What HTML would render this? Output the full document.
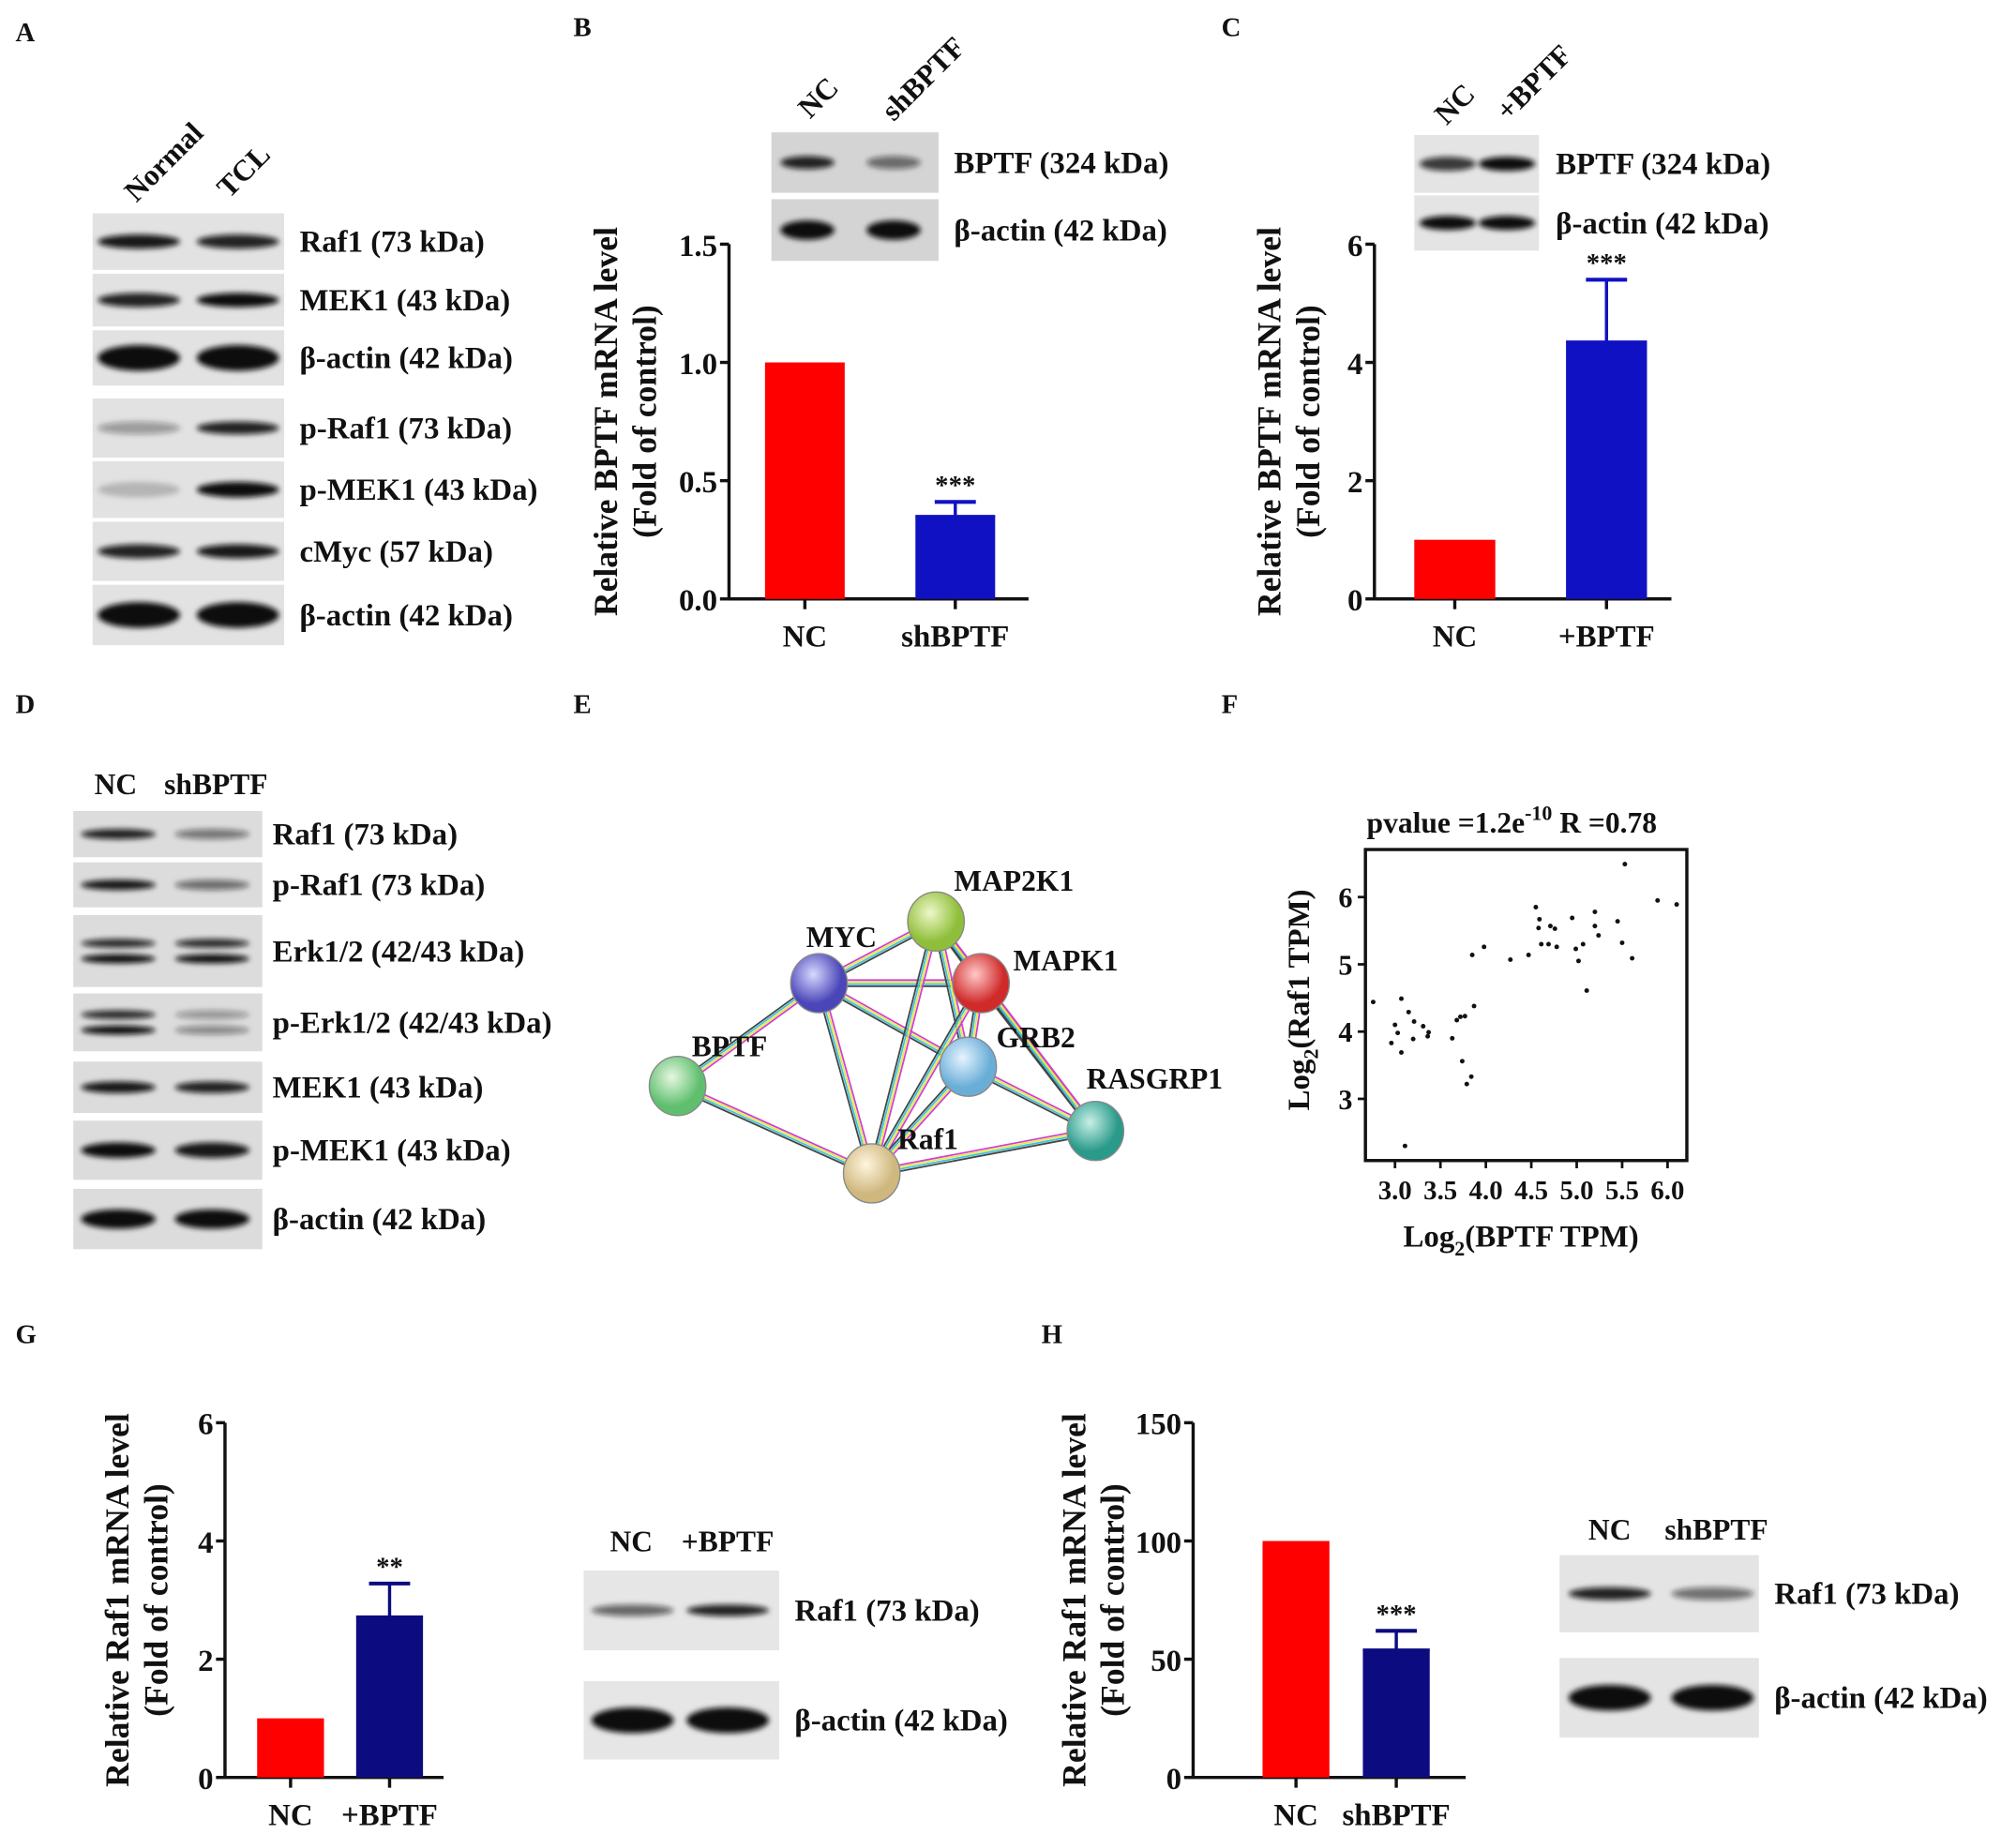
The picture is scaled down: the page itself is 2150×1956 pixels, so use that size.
<!DOCTYPE html>
<html><head><meta charset="utf-8">
<style>
html,body{margin:0;padding:0;background:#fff;}
svg{display:block;}
text{font-family:"Liberation Serif",serif;font-weight:bold;fill:#111;}
</style></head>
<body>
<svg id="fig" width="2150" height="1956" viewBox="0 0 1568 1427" preserveAspectRatio="none" xmlns="http://www.w3.org/2000/svg">
<defs>
<filter id="blur" x="-20%" y="-100%" width="140%" height="300%"><feGaussianBlur stdDeviation="2.2"/></filter>
<radialGradient id="gGreen" cx="40%" cy="35%"><stop offset="0" stop-color="#e6f7e0"/><stop offset="1" stop-color="#5fbf6f"/></radialGradient>
<radialGradient id="gLime" cx="40%" cy="35%"><stop offset="0" stop-color="#eef7c8"/><stop offset="1" stop-color="#8fbf3a"/></radialGradient>
<radialGradient id="gBlue" cx="40%" cy="35%"><stop offset="0" stop-color="#d8d8ff"/><stop offset="1" stop-color="#4a46b8"/></radialGradient>
<radialGradient id="gRed" cx="40%" cy="35%"><stop offset="0" stop-color="#ffc8c8"/><stop offset="1" stop-color="#d02a2a"/></radialGradient>
<radialGradient id="gCyan" cx="40%" cy="35%"><stop offset="0" stop-color="#e6f4ff"/><stop offset="1" stop-color="#6aaed8"/></radialGradient>
<radialGradient id="gTeal" cx="40%" cy="35%"><stop offset="0" stop-color="#c8f0e8"/><stop offset="1" stop-color="#2a9a8a"/></radialGradient>
<radialGradient id="gTan" cx="40%" cy="35%"><stop offset="0" stop-color="#fff6e0"/><stop offset="1" stop-color="#cfb77e"/></radialGradient>
</defs>
<g id="root"></g>
</svg>
<script>
// ---------- data ----------
const bCats = ["NC","shBPTF"];
const bVals = [1.0, 0.35];
const bErr = [0, 0.06];
const bTicks = ["0.0","0.5","1.0","1.5"];
const cCats = ["NC","+BPTF"];
const cVals = [1.0, 4.35];
const cErr = [0, 1.05];
const cTicks = ["0","2","4","6"];
const gCats = ["NC","+BPTF"];
const gVals = [1.0, 2.72];
const gErr = [0, 0.56];
const gTicks = ["0","2","4","6"];
const hCats = ["NC","shBPTF"];
const hVals = [100, 54];
const hErr = [0, 8];
const hTicks = ["0","50","100","150"];
const fX = [2.76,3.07,3.0,3.03,2.96,3.07,3.15,3.21,3.2,3.31,3.37,3.36,3.11,3.63,3.68,3.72,3.77,3.74,3.84,3.79,3.87,3.85,3.98,4.27,4.47,4.55,4.58,4.59,4.61,4.69,4.71,4.76,4.78,4.95,4.99,5.02,5.07,5.11,5.2,5.2,5.24,5.45,5.5,5.53,5.61,5.89,6.1];
const fY = [4.44,4.49,4.10,3.98,3.83,3.69,4.29,4.15,3.89,4.08,3.99,3.93,2.30,3.90,4.17,4.22,4.23,3.56,3.33,3.22,4.38,5.14,5.26,5.07,5.14,5.85,5.54,5.67,5.30,5.30,5.57,5.53,5.26,5.69,5.23,5.05,5.30,4.61,5.78,5.57,5.43,5.64,5.32,6.49,5.09,5.95,5.89];
const fXTicks = ["3.0","3.5","4.0","4.5","5.0","5.5","6.0"];
const fYTicks = ["3","4","5","6"];

const NS="http://www.w3.org/2000/svg";
const root=document.getElementById('root');
function mk(tag,attrs,parent,txt){const e=document.createElementNS(NS,tag);for(const k in attrs)e.setAttribute(k,attrs[k]);if(txt!==undefined)e.textContent=txt;(parent||root).appendChild(e);return e;}
function grp(name){const g=mk('g',{});


return g;}
function label(g,x,y,s,size,name,anchor){const t=mk('text',{x:x,y:y,'font-size':size||24,'text-anchor':anchor||'start'},g,s);


return t;}

[["A",12,32],["B",446,28],["C",950,28],["D",12,555],["E",446,555],["F",950,555],["G",12,1045],["H",810,1045]].forEach(p=>{
  const t=mk('text',{x:p[1],y:p[2],'font-size':21},root,p[0]);
  
  
});

function blot(name,x0,x1,lanes,rows,lx,bandW,bg){
  const g=grp(name);
  rows.forEach(r=>{
    const rg=grp(r[3]);g.appendChild(rg);
    mk('rect',{x:x0,y:r[0],width:x1-x0,height:r[1]-r[0],fill:bg||'#dedede'},rg);
    const cy=(r[0]+r[1])/2;
    lanes.forEach((lx2,i)=>{
      const v=r[2][i];
      const bh=r[5]||9;
      if(r[6]){
        mk('ellipse',{cx:lx2,cy:cy-6,rx:bandW/2,ry:bh/2,fill:'#111','fill-opacity':v,filter:'url(#blur)'},rg);
        mk('ellipse',{cx:lx2,cy:cy+6,rx:bandW/2,ry:bh/2,fill:'#111','fill-opacity':Math.min(1,v*1.2),filter:'url(#blur)'},rg);
      } else mk('ellipse',{cx:lx2,cy:cy,rx:bandW/2,ry:bh/2,fill:'#111','fill-opacity':v,filter:'url(#blur)'},rg);
    });
    label(rg,lx,cy+8,r[4],24,r[3]+'-label');
  });
  return g;
}

// ---- Panel A ----
(function(){
  const g=grp('panel-a');
  const t1=label(g,0,0,'Normal',23,'lane-normal');t1.setAttribute('transform','translate(106,158) rotate(-45)');
  const t2=label(g,0,0,'TCL',23,'lane-tcl');t2.setAttribute('transform','translate(178,155) rotate(-45)');
  g.appendChild(blot('blot-a',72,221,[108,185],[
    [166,210,[0.95,0.9],'raf1-row','Raf1 (73 kDa)',11],
    [213,254,[0.9,1],'mek1-row','MEK1 (43 kDa)',11],
    [257,300,[1,1],'actin-row-1','β-actin (42 kDa)',20],
    [310,356,[0.35,0.9],'praf1-row','p-Raf1 (73 kDa)',10],
    [359,403,[0.2,1],'pmek1-row','p-MEK1 (43 kDa)',12],
    [406,452,[0.9,0.95],'cmyc-row','cMyc (57 kDa)',11],
    [455,502,[1,1],'actin-row-2','β-actin (42 kDa)',20]
  ],233,64,'#e2e2e2'));
})();

function bar(name,ax,yTop,yBot,xEnd,max,ticks,cats,vals,errs,barX,barW,colors,stars,titleX,title1,title2){
  const g=grp(name);
  const ys=v=>yBot-(v/max)*(yBot-yTop);
  mk('line',{x1:ax,y1:yTop,x2:ax,y2:yBot+1,stroke:'#111','stroke-width':2.5},g);
  mk('line',{x1:ax,y1:yBot,x2:xEnd,y2:yBot,stroke:'#111','stroke-width':2.5},g);
  ticks.forEach((t,i)=>{const v=max*i/(ticks.length-1);const y=ys(v);
    mk('line',{x1:ax-7,y1:y,x2:ax,y2:y,stroke:'#111','stroke-width':2.5},g);
    label(g,ax-9,y+9,t,24,'y-tick-'+t,'end');});
  cats.forEach((c,i)=>{
    const x=barX[i];const yv=ys(vals[i]);
    const b=mk('rect',{x:x,y:yv,width:barW,height:yBot-yv,fill:colors[i]},g);
    
    
    const cx=x+barW/2;
    mk('line',{x1:cx,y1:yBot,x2:cx,y2:yBot+8,stroke:'#111','stroke-width':2.5},g);
    label(g,cx,yBot+37,c,24,'x-label-'+c.toLowerCase().replace('+','plus-'),'middle');
    if(errs[i]>0){const ye=ys(vals[i]+errs[i]);
      mk('line',{x1:cx,y1:yv,x2:cx,y2:ye,stroke:colors[i],'stroke-width':2.5},g);
      mk('line',{x1:cx-16,y1:ye,x2:cx+16,y2:ye,stroke:colors[i],'stroke-width':3},g);
      mk('line',{x1:x,y1:yv,x2:x+barW,y2:yv,stroke:colors[i],'stroke-width':2},g);
      const s=mk('text',{x:cx,y:ye-6,'font-size':21,'text-anchor':'middle',fill:'#333'},g,stars);
      
      
    }
  });
  const cy=(yTop+yBot)/2;
  const a=label(g,0,0,title1,26,'y-axis-title','middle');a.setAttribute('transform',`translate(${titleX},${cy}) rotate(-90)`);
  const b2=label(g,0,0,title2,26,'y-axis-subtitle','middle');b2.setAttribute('transform',`translate(${titleX+30},${cy}) rotate(-90)`);
  return g;
}

// ---- Panel B ----
(function(){
  const g=grp('panel-b');
  const t1=label(g,0,0,'NC',23,'lane-nc');t1.setAttribute('transform','translate(630,93) rotate(-45)');
  const t2=label(g,0,0,'shBPTF',23,'lane-shbptf');t2.setAttribute('transform','translate(695,95) rotate(-45)');
  g.appendChild(blot('blot-b',600,730,[628,695],[
    [103,150,[0.9,0.55],'bptf-row-b','BPTF (324 kDa)',10],
    [155,203,[1,1],'actin-row-b','β-actin (42 kDa)',15]
  ],742,42,'#d4d4d4'));
  g.appendChild(bar('bar-chart-b',567,190,466,800,1.5,bTicks,bCats,bVals,bErr,[595,712],62,['#ff0000','#1111c4'],'***',480,'Relative BPTF mRNA level','(Fold of control)'));
})();

// ---- Panel C ----
(function(){
  const g=grp('panel-c');
  const t1=label(g,0,0,'NC',23,'lane-nc');t1.setAttribute('transform','translate(1125,98) rotate(-45)');
  const t2=label(g,0,0,'+BPTF',23,'lane-plus-bptf');t2.setAttribute('transform','translate(1173,95) rotate(-45)');
  g.appendChild(blot('blot-c',1100,1197,[1126,1172],[
    [105,150,[0.8,1],'bptf-row-c','BPTF (324 kDa)',11],
    [152,195,[1,1],'actin-row-c','β-actin (42 kDa)',11]
  ],1210,44,'#e4e4e4'));
  g.appendChild(bar('bar-chart-c',1069,190,466,1300,6,cTicks,cCats,cVals,cErr,[1100,1218],63,['#ff0000','#1111c4'],'***',996,'Relative BPTF mRNA level','(Fold of control)'));
})();

// ---- Panel D ----
(function(){
  const g=grp('panel-d');
  label(g,90,618,'NC',23,'lane-nc','middle');
  label(g,168,618,'shBPTF',23,'lane-shbptf','middle');
  g.appendChild(blot('blot-d',57,204,[92,165],[
    [631,667,[0.9,0.5],'raf1-row-d','Raf1 (73 kDa)',8],
    [671,706,[0.95,0.55],'praf1-row-d','p-Raf1 (73 kDa)',8],
    [712,768,[0.85,0.85],'erk-row-d','Erk1/2 (42/43 kDa)',7,true],
    [773,818,[0.85,0.35],'perk-row-d','p-Erk1/2 (42/43 kDa)',7,true],
    [826,866,[0.95,0.9],'mek1-row-d','MEK1 (43 kDa)',9],
    [872,918,[1,0.95],'pmek1-row-d','p-MEK1 (43 kDa)',12],
    [925,972,[1,1],'actin-row-d','β-actin (42 kDa)',15]
  ],212,58,'#dcdcdc'));
})();

// ---- Panel E network ----
(function(){
  const g=grp('panel-e-network');
  const nodes={MAP2K1:[728,717,'gLime'],MYC:[637,765,'gBlue'],MAPK1:[763,765,'gRed'],GRB2:[753,830,'gCyan'],BPTF:[527,845,'gGreen'],RASGRP1:[852,880,'gTeal'],Raf1:[678,913,'gTan']};
  const edges=[['MYC','MAP2K1'],['MYC','MAPK1'],['MYC','BPTF'],['MYC','Raf1'],['MYC','GRB2'],['MAP2K1','MAPK1'],['MAP2K1','Raf1'],['MAP2K1','GRB2'],['MAPK1','Raf1'],['MAPK1','GRB2'],['MAPK1','RASGRP1'],['GRB2','Raf1'],['GRB2','RASGRP1'],['BPTF','Raf1'],['Raf1','RASGRP1'],['MAP2K1','RASGRP1']];
  const cols=['#d040d0','#e8e840','#40c0e0','#444'];
  edges.forEach(e=>{const a=nodes[e[0]],b=nodes[e[1]];
    const dx=b[0]-a[0],dy=b[1]-a[1],L=Math.hypot(dx,dy),nx=-dy/L,ny=dx/L;
    cols.forEach((c,i)=>{const o=(i-1.5)*1.6;
      mk('line',{x1:a[0]+nx*o,y1:a[1]+ny*o,x2:b[0]+nx*o,y2:b[1]+ny*o,stroke:c,'stroke-width':1.3},g);});
  });
  Object.keys(nodes).forEach(k=>{const n=nodes[k];
    const c=mk('ellipse',{cx:n[0],cy:n[1],rx:22,ry:23,fill:'url(#'+n[2]+')',stroke:'#888','stroke-width':1},g);
    
    
  });
  [['MAP2K1',742,693],['MYC',627,737],['MAPK1',788,755],['GRB2',775,815],['BPTF',538,822],['RASGRP1',845,847],['Raf1',698,894]].forEach(l=>label(g,l[1],l[2],l[0],23,'node-label-'+l[0].toLowerCase()));
})();

// ---- Panel F scatter ----
(function(){
  const g=grp('panel-f-scatter');
  const X0=1062,X1=1312,Y0=661,Y1=903;
  const xs=v=>1085+(v-3)*(1297-1085)/3;
  const ys=v=>855-(v-3)*(855-698)/3;
  const t=mk('text',{x:1063,y:648,'font-size':23},g);
  
  
  mk('tspan',{},t,'pvalue =1.2e');mk('tspan',{dy:-10,'font-size':16},t,'-10');mk('tspan',{dy:10},t,'  R =0.78');
  mk('rect',{x:X0,y:Y0,width:X1-X0,height:Y1-Y0,fill:'none',stroke:'#111','stroke-width':2.5},g);
  fXTicks.forEach(s=>{const x=xs(parseFloat(s));mk('line',{x1:x,y1:Y1,x2:x,y2:Y1+6,stroke:'#111','stroke-width':2},g);label(g,x,Y1+30,s,21,'x-tick-'+s,'middle');});
  fYTicks.forEach(s=>{const y=ys(parseFloat(s));mk('line',{x1:X0-6,y1:y,x2:X0,y2:y,stroke:'#111','stroke-width':2},g);label(g,X0-10,y+8,s,22,'y-tick-'+s,'end');});
  fX.forEach((v,i)=>{const p=mk('circle',{cx:xs(v),cy:ys(fY[i]),r:1.8,fill:'#111'},g);
    
    });
  const xt=mk('text',{x:1183,y:970,'font-size':24,'text-anchor':'middle'},g);
  
  
  mk('tspan',{},xt,'Log');mk('tspan',{dy:7,'font-size':16},xt,'2');mk('tspan',{dy:-7},xt,'(BPTF TPM)');
  const yt=mk('text',{'font-size':24,'text-anchor':'middle',transform:'translate(1018,778) rotate(-90)'},g);
  
  
  mk('tspan',{},yt,'Log');mk('tspan',{dy:7,'font-size':16},yt,'2');mk('tspan',{dy:-7},yt,'(Raf1 TPM)');
})();

// ---- Panel G ----
(function(){
  const g=grp('panel-g');
  g.appendChild(bar('bar-chart-g',175,1107,1383,345,6,gTicks,gCats,gVals,gErr,[200,277],52,['#ff0000','#0c0c80'],'**',100,'Relative Raf1 mRNA level','(Fold of control)'));
  label(g,491,1207,'NC',23,'lane-nc','middle');
  label(g,566,1207,'+BPTF',23,'lane-plus-bptf','middle');
  g.appendChild(blot('blot-g',454,606,[492,566],[
    [1222,1284,[0.6,0.9],'raf1-row-g','Raf1 (73 kDa)',9],
    [1308,1369,[1,1],'actin-row-g','β-actin (42 kDa)',20]
  ],618,64,'#e6e6e6'));
})();

// ---- Panel H ----
(function(){
  const g=grp('panel-h');
  g.appendChild(bar('bar-chart-h',928,1107,1383,1140,150,hTicks,hCats,hVals,hErr,[982,1060],52,['#ff0000','#0c0c80'],'***',844,'Relative Raf1 mRNA level','(Fold of control)'));
  label(g,1252,1198,'NC',23,'lane-nc','middle');
  label(g,1335,1198,'shBPTF',23,'lane-shbptf','middle');
  g.appendChild(blot('blot-h',1213,1368,[1252,1332],[
    [1210,1270,[0.9,0.55],'raf1-row-h','Raf1 (73 kDa)',10],
    [1290,1352,[1,1],'actin-row-h','β-actin (42 kDa)',20]
  ],1380,64,'#e4e4e4'));
})();
</script>
</body></html>
